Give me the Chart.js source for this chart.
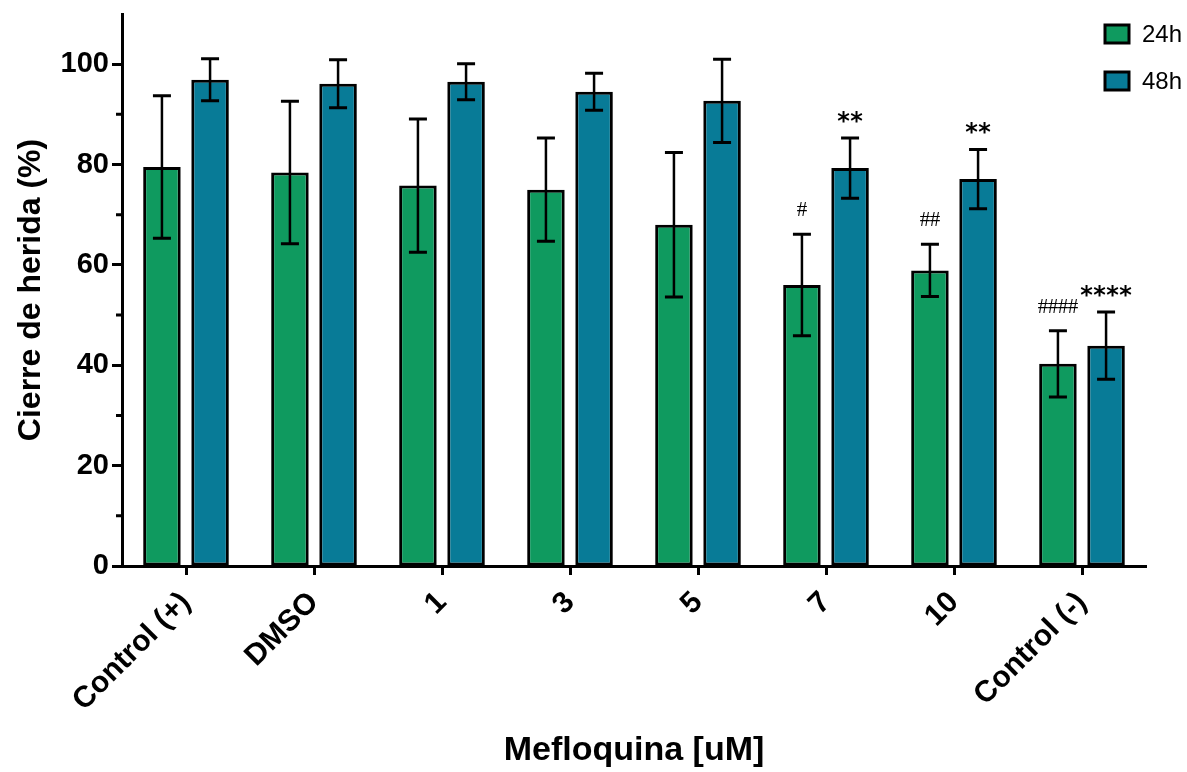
<!DOCTYPE html>
<html>
<head>
<meta charset="utf-8">
<script src="https://cdn.jsdelivr.net/npm/chart.js@4.4.1/dist/chart.umd.min.js"></script>
<style>
  html, body { margin: 0; padding: 0; background: #fff; }
  #caja { width: 1187px; height: 772px; position: relative; }
</style>
</head>
<body>
<div id="caja"><canvas id="grafico"></canvas></div>
<script>
// datos
const categorias = ['Control (+)', 'DMSO', '1', '3', '5', '7', '10', 'Control (-)'];
const cierre24 = [79.5, 78.4, 75.8, 75.0, 68.0, 56.0, 58.9, 40.3];
const error24 = [14.2, 14.2, 13.3, 10.3, 14.4, 10.1, 5.2, 6.6];
const cierre48 = [96.9, 96.1, 96.5, 94.5, 92.7, 79.3, 77.1, 43.9];
const error48 = [4.2, 4.8, 3.6, 3.7, 8.3, 6.0, 5.9, 6.7];
const marcas24 = ['', '', '', '', '', '#', '##', '####'];
const marcas48 = ['', '', '', '', '', '**', '**', '****'];
const ticksY = [0, 20, 40, 60, 80, 100];
const ticksMenores = [10, 30, 50, 70, 90];

const verde = '#0F9A5F';
const azul = '#087B97';
const fuente = "'Liberation Sans', Arial, sans-serif";

function dibujarMarca(ctx, texto, x, yArriba) {
	const n = texto.length;
	let sep, base;
	if (texto[0] === '*') {
		ctx.font = "bold 24px 'DejaVu Sans'";
		sep = 13;
		base = yArriba - 9;
	} else {
		ctx.font = "21px 'Liberation Serif'";
		sep = 10;
		base = yArriba - 18;
	}
	ctx.textAlign = 'center';
	ctx.textBaseline = 'alphabetic';
	ctx.fillStyle = '#000';
	const x0 = x - (n - 1) * sep / 2;
	for (let k = 0; k < n; k++) ctx.fillText(texto[k], x0 + k * sep, base);
}

const extras = {
	id: 'extras',
	afterDatasetsDraw(chart) {
		const ctx = chart.ctx;
		const y = chart.scales.y;
		const errores = [error24, error48];
		const marcas = [marcas24, marcas48];
		ctx.save();
		ctx.strokeStyle = '#000';
		chart.data.datasets.forEach((ds, d) => {
			chart.getDatasetMeta(d).data.forEach((barra, i) => {
				const v = ds.data[i], e = errores[d][i];
				const x = barra.x;
				const yArr = y.getPixelForValue(v + e);
				const yAb = y.getPixelForValue(v - e);
				ctx.lineWidth = 2.5;
				ctx.beginPath(); ctx.moveTo(x, yArr); ctx.lineTo(x, yAb); ctx.stroke();
				ctx.lineWidth = 3;
				ctx.beginPath();
				ctx.moveTo(x - 9, yArr); ctx.lineTo(x + 9, yArr);
				ctx.moveTo(x - 9, yAb); ctx.lineTo(x + 9, yAb);
				ctx.stroke();
				if (marcas[d][i]) dibujarMarca(ctx, marcas[d][i], x, yArr);
			});
		});
		// ticks menores del eje y
		const izq = chart.chartArea.left;
		ctx.lineWidth = 3;
		ctx.beginPath();
		ticksMenores.forEach(v => {
			const py = y.getPixelForValue(v);
			ctx.moveTo(izq - 6, py); ctx.lineTo(izq, py);
		});
		ctx.stroke();
		ctx.restore();
	},
	afterDraw(chart) {
		// leyenda arriba a la derecha
		const ctx = chart.ctx;
		ctx.save();
		const items = chart.data.datasets.map(ds => [ds.label, ds.backgroundColor]);
		items.forEach(([txt, col], k) => {
			const top = 25 + k * 47;
			ctx.fillStyle = col;
			ctx.fillRect(1105, top, 24, 18);
			ctx.lineWidth = 3;
			ctx.strokeStyle = '#000';
			ctx.strokeRect(1105, top, 24, 18);
			ctx.fillStyle = '#000';
			ctx.font = '24px ' + fuente;
			ctx.textAlign = 'left';
			ctx.textBaseline = 'middle';
			ctx.fillText(txt, 1142, top + 10);
		});
		ctx.restore();
	}
};

new Chart(document.getElementById('grafico'), {
	type: 'bar',
	data: {
		labels: categorias,
		datasets: [
			{ label: '24h', data: cierre24, backgroundColor: verde },
			{ label: '48h', data: cierre48, backgroundColor: azul }
		]
	},
	options: {
		responsive: true,
		maintainAspectRatio: false,
		animation: false,
		devicePixelRatio: 1,
		layout: { padding: { top: 14, right: 41, left: 0, bottom: 0 }, autoPadding: false },
		datasets: {
			bar: {
				barPercentage: 0.78,
				categoryPercentage: 0.752,
				borderWidth: 3,
				borderColor: '#000',
				borderSkipped: false
			}
		},
		plugins: { legend: { display: false }, tooltip: { enabled: false } },
		scales: {
			x: {
				grid: { drawOnChartArea: false, offset: false, tickLength: 9, tickWidth: 3, tickColor: '#000' },
				border: { color: '#000', width: 3 },
				ticks: {
					color: '#000', autoSkip: false, minRotation: 45, maxRotation: 45, padding: 10,
					font: { family: fuente, size: 30, weight: 'bold' }
				},
				title: {
					display: true, text: 'Mefloquina [uM]', color: '#000',
					font: { family: fuente, size: 34, weight: 'bold' },
					padding: { top: 0, bottom: 1 }
				},
				afterFit: s => { s.height = 206; s.paddingLeft = 0; s.paddingRight = 0; }
			},
			y: {
				min: 0, max: 110,
				grid: {
					drawOnChartArea: false, tickLength: 10, tickWidth: 3,
					tickColor: c => ticksY.includes(c.tick.value) ? '#000' : 'rgba(0,0,0,0)'
				},
				border: { color: '#000', width: 3 },
				ticks: {
					stepSize: 10, autoSkip: false, color: '#000', padding: 3,
					callback: v => ticksY.includes(v) ? v : '',
					font: { family: fuente, size: 29, weight: 'bold' }
				},
				title: {
					display: true, text: 'Cierre de herida (%)', color: '#000',
					font: { family: fuente, size: 32, weight: 'bold' },
					padding: { top: 12, bottom: 0 }
				},
				afterFit: s => { s.width = 122; s.paddingTop = 0; s.paddingBottom = 0; }
			}
		}
	},
	plugins: [extras]
});
</script>
</body>
</html>
